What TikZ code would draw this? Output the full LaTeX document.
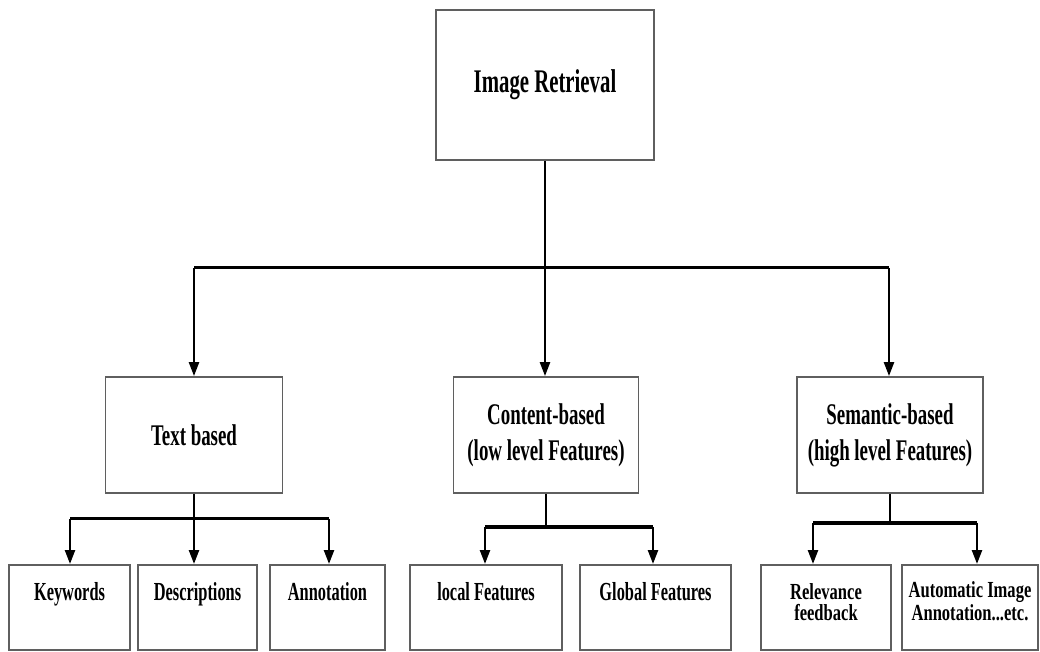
\documentclass[tikz,border=0pt]{standalone}
\usepackage{fontspec}
\setmainfont[FakeStretch=0.63]{Liberation Serif}
\newfontfamily\leafcond[FakeStretch=0.72]{Liberation Serif}
\usetikzlibrary{arrows.meta}
\definecolor{boxgrey}{RGB}{95,95,95}

\begin{document}
\begin{tikzpicture}[x=0.5pt, y=-0.5pt,
    catbox/.style={rectangle, draw=boxgrey, line width=0.9pt, align=center,
        inner sep=0pt, font=\fontsize{15}{18}\selectfont\bfseries},
    rootbox/.style={catbox, minimum width=109pt, minimum height=75pt,
        font=\fontsize{16.5}{19}\selectfont\bfseries},
    midbox/.style={catbox, minimum height=58pt},
    leafbox/.style={catbox, anchor=north, inner ysep=9pt, text height=9pt,
        text depth=15.5pt, font=\fontsize{13}{15}\selectfont\bfseries},
    leaftwo/.style={leafbox, inner ysep=10pt, text height=18pt, text depth=4.5pt,
        font=\leafcond\fontsize{11.5}{10.5}\selectfont\bfseries},
    bar/.style={line width=1.5pt},
    stem/.style={line width=1pt},
    arr/.style={->, line width=1.2pt},
    >={Triangle[length=7pt,width=5pt]}
]
\fill[white] (0,0) rectangle (1040,652);
\useasboundingbox (0,0) rectangle (1040,652);

% root and the three kinds
\node[rootbox] (root) at (545,85) {Image Retrieval};
\node[midbox, minimum width=88.5pt] (textb) at (194,435) {Text based};
\node[midbox, minimum width=92.5pt] (content) at (546,435) {Content-based\\(low level Features)};
\node[midbox, minimum width=93pt] (semantic) at (890,435) {Semantic-based\\(high level Features)};

% leaves
\node[leafbox, minimum width=60.5pt] (keyw) at (69.5,564) {Keywords};
\node[leafbox, minimum width=59.5pt] (descr) at (197.5,564) {Descriptions};
\node[leafbox, minimum width=57.5pt] (annot) at (327.5,564) {Annotation};
\node[leafbox, minimum width=76pt] (localf) at (486,564) {local Features};
\node[leafbox, minimum width=75.5pt] (globalf) at (655.5,564) {Global Features};
\node[leaftwo, minimum width=65pt] (relev) at (826,564) {Relevance\\feedback};
\node[leaftwo, minimum width=68pt] (autoann) at (970,564) {Automatic Image\\Annotation...etc.};

% top level branching
\coordinate (mainL) at (194,268);
\coordinate (mainR) at (889,268);
\draw[stem] (root) -- (root |- mainL);
\draw[bar] (mainL) -- (mainR);
\draw[arr] (mainL) -- (mainL |- textb.north);
\draw[arr] (root |- mainL) -- (root |- content.north);
\draw[arr] (mainR) -- (mainR |- semantic.north);

% text based
\coordinate (txtL) at (70,519);
\coordinate (txtR) at (329,519);
\draw[stem] (textb) -- (textb |- txtL);
\draw[bar] (txtL) -- (txtR);
\draw[arr] (txtL) -- (txtL |- keyw.north);
\draw[arr] (textb |- txtL) -- (textb |- descr.north);
\draw[arr] (txtR) -- (txtR |- annot.north);

% content based
\coordinate (cntL) at (485,527);
\coordinate (cntR) at (653,527);
\draw[stem] (content) -- (content |- cntL);
\draw[bar] (cntL) -- (cntR);
\draw[arr] (cntL) -- (cntL |- localf.north);
\draw[arr] (cntR) -- (cntR |- globalf.north);

% semantic based
\coordinate (semL) at (813,523);
\coordinate (semR) at (977,523);
\draw[stem] (semantic) -- (semantic |- semL);
\draw[bar] (semL) -- (semR);
\draw[arr] (semL) -- (semL |- relev.north);
\draw[arr] (semR) -- (semR |- autoann.north);
\end{tikzpicture}
\end{document}
